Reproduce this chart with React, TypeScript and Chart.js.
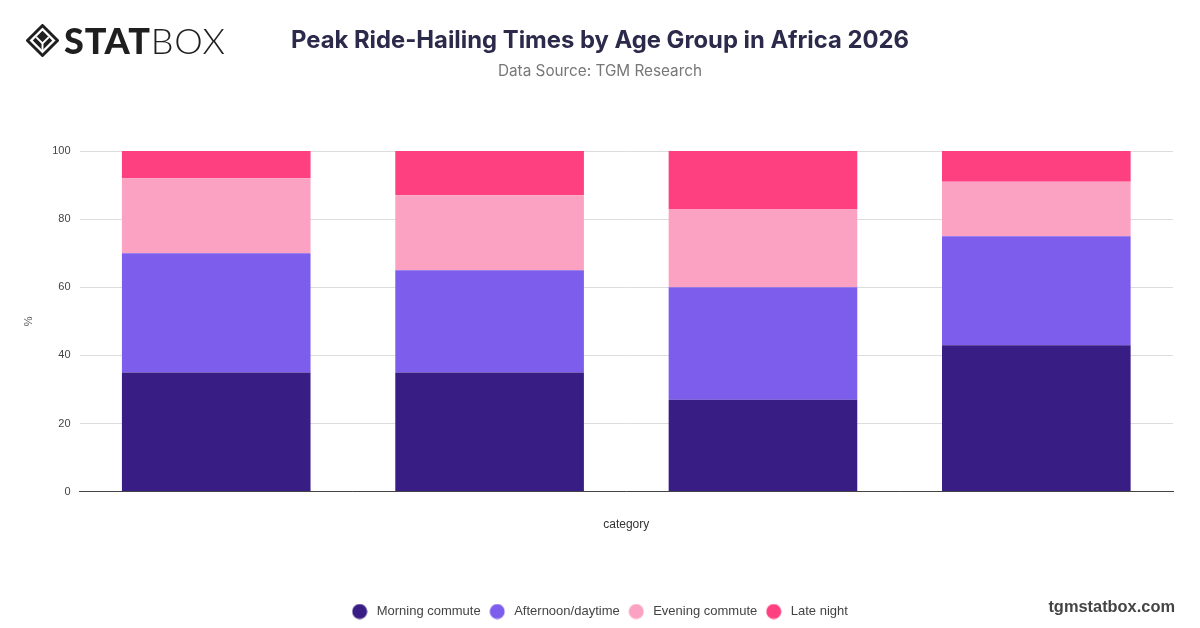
import React, { useEffect, useRef } from "react";
import { Chart, registerables } from "chart.js";

Chart.register(...registerables);

const categories = ["", "", "", ""];
const seriesNames = ["Morning commute", "Afternoon/daytime", "Evening commute", "Late night"];
const morning = [35, 35, 27, 43];
const afternoon = [35, 30, 33, 32];
const evening = [22, 22, 23, 16];
const lateNight = [8, 13, 17, 9];
const seriesColors = ["#381d84", "#7d5eec", "#fba2c2", "#fe3f80"];
const yTicks = [0, 20, 40, 60, 80, 100];

const chartFont = "'Liberation Sans', Arial, Helvetica, sans-serif";

function makeDot(color: string): HTMLCanvasElement {
  const c = document.createElement("canvas");
  const d = 16;
  c.width = d;
  c.height = d;
  const g = c.getContext("2d");
  if (g) {
    g.fillStyle = color;
    g.beginPath();
    g.arc(d / 2, d / 2, 7.5, 0, Math.PI * 2);
    g.fill();
  }
  return c;
}

function Logo() {
  return (
    <div style={{ position: "absolute", left: 26, top: 22, display: "flex", alignItems: "center" }}>
      <svg width="33" height="33" viewBox="0 0 34 34">
        <path d="M17 1.5 L32.5 17 L17 32.5 L1.5 17 Z" fill="none" stroke="#1f1f1f" strokeWidth="3" strokeLinejoin="round" />
        <path d="M17 7 L27 17 L17 27 L7 17 Z" fill="#1f1f1f" />
        <path d="M10.5 13.5 L17 20 L23.5 13.5" fill="none" stroke="#ffffff" strokeWidth="2" />
        <path d="M17 20 L17 27" stroke="#ffffff" strokeWidth="2" />
      </svg>
      <div style={{ marginLeft: 5, fontFamily: "Lato, 'DejaVu Sans', sans-serif", fontSize: 36, lineHeight: "36px", color: "#1f1f1f", letterSpacing: 0.8 }}>
        <span style={{ fontWeight: 900 }}>STAT</span>
        <span style={{ fontWeight: 300 }}>BOX</span>
      </div>
    </div>
  );
}

export default function App() {
  const canvasRef = useRef<HTMLCanvasElement | null>(null);

  useEffect(() => {
    document.body.style.margin = "0";
    const ctx = canvasRef.current;
    if (!ctx) return;
    const data = [morning, afternoon, evening, lateNight];
    const dots = seriesColors.map((c) => makeDot(c));
    const chart = new Chart(ctx, {
      type: "bar",
      data: {
        labels: categories,
        datasets: seriesNames.map((name, i) => ({
          label: name,
          data: data[i],
          backgroundColor: seriesColors[i],
          borderWidth: 0,
          categoryPercentage: 0.69,
          barPercentage: 1,
        })),
      },
      options: {
        responsive: false,
        animation: false,
        maintainAspectRatio: false,
        layout: { padding: { top: 151, left: 24, right: 27, bottom: 0 } },
        plugins: {
          title: { display: false },
          tooltip: { enabled: false },
          legend: {
            position: "bottom",
            labels: {
              usePointStyle: true,
              pointStyleWidth: 21,
              boxHeight: 13,
              padding: 6,
              color: "#444444",
              font: { family: chartFont, size: 13 },
              generateLabels: (ch: any) => {
                const items = Chart.defaults.plugins.legend.labels.generateLabels(ch);
                return items.map((it: any, i: number) => ({ ...it, pointStyle: dots[i % dots.length] }));
              },
            },
          },
        },
        scales: {
          x: {
            stacked: true,
            grid: { display: false, drawTicks: false },
            border: { display: true, color: "#444444", width: 1 },
            ticks: { display: false },
            title: {
              display: true,
              text: "category",
              color: "#333333",
              font: { family: chartFont, size: 12 },
              padding: { top: 26, bottom: 67 },
            },
          },
          y: {
            stacked: true,
            min: 0,
            max: 100,
            afterBuildTicks: (axis: any) => {
              axis.ticks = yTicks.map((v) => ({ value: v }));
            },
            grid: { color: "#dddddd", drawTicks: false },
            border: { display: false },
            ticks: {
              padding: 9,
              color: "#444444",
              font: { family: chartFont, size: 11 },
            },
            title: {
              display: true,
              text: "%",
              color: "#555555",
              font: { family: chartFont, size: 11 },
              padding: { top: -2, bottom: 8 },
            },
          },
        },
      },
    });
    return () => chart.destroy();
  }, []);

  return (
    <div style={{ position: "relative", width: 1200, height: 628, background: "#ffffff", overflow: "hidden" }}>
      <canvas ref={canvasRef} width={1200} height={628} style={{ position: "absolute", left: 0, top: 0, width: 1200, height: 628 }} />
      <Logo />
      <div style={{ position: "absolute", left: 0, width: 1200, top: 23, textAlign: "center", fontFamily: "Inter, 'Open Sans', sans-serif", fontWeight: 700, fontSize: 23.8, color: "#2c2a4a", lineHeight: "34px" }}>
        Peak Ride-Hailing Times by Age Group in Africa 2026
      </div>
      <div style={{ position: "absolute", left: 0, width: 1200, top: 61, textAlign: "center", fontFamily: "Inter, 'Open Sans', sans-serif", fontWeight: 400, fontSize: 15.3, color: "#777777", lineHeight: "20px" }}>
        Data Source: TGM Research
      </div>
      <div style={{ position: "absolute", right: 25, top: 595, fontFamily: chartFont, fontWeight: 700, fontSize: 16.4, color: "#444444", lineHeight: "22px" }}>
        tgmstatbox.com
      </div>
    </div>
  );
}
